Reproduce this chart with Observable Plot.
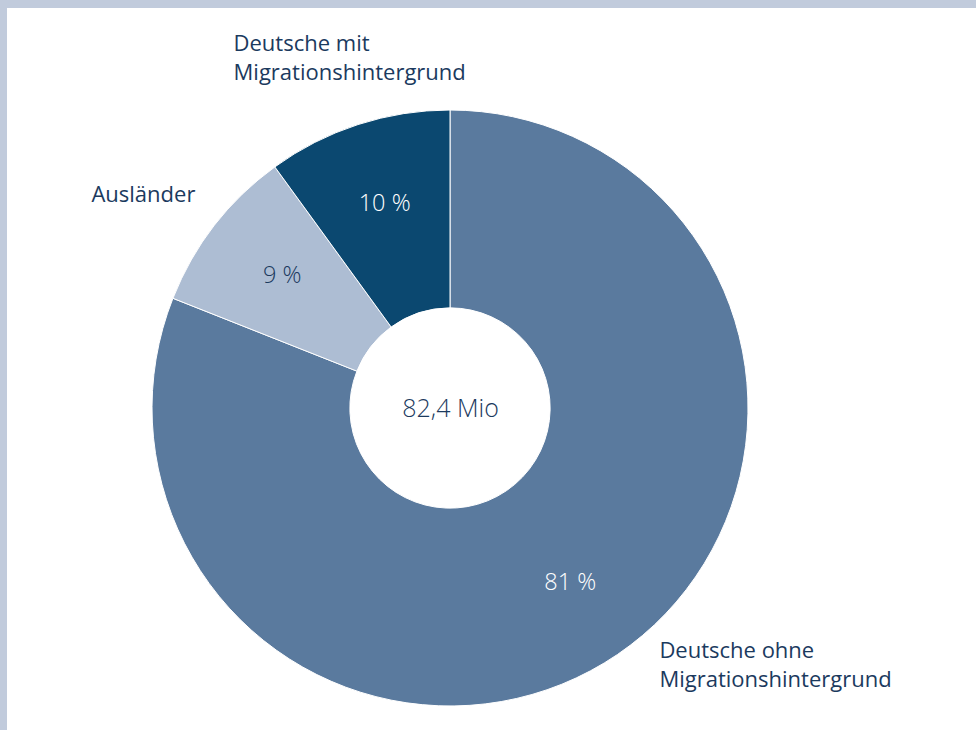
<!DOCTYPE html>
<html>
<head>
<meta charset="utf-8">
<script src="https://cdn.jsdelivr.net/npm/d3@7"></script>
<script src="https://cdn.jsdelivr.net/npm/@observablehq/plot@0.6"></script>
<style>
  html, body { margin: 0; padding: 0; background: #fff; }
  #wrap { position: relative; width: 976px; height: 730px; overflow: hidden; }
  #wrap svg { position: absolute; left: 0; top: 0; }
  .frame-top { position: absolute; left: 0; top: 0; width: 976px; height: 8px; background: #c1cbdc; }
  .frame-left { position: absolute; left: 0; top: 0; width: 7px; height: 730px; background: #c1cbdc; }
</style>
</head>
<body>
<div id="wrap"></div>
<script>
const categories = [["Deutsche ohne", "Migrationshintergrund"], ["Ausländer"], ["Deutsche mit", "Migrationshintergrund"]];
const shares = [81, 9, 10];
const shareLabels = ["81 %", "9 %", "10 %"];
const colors = ["#5a7a9e", "#adbdd3", "#0b4870"];
const shareLabelColors = ["#ffffff", "#1b3a5e", "#ffffff"];
const totalLabel = "82,4 Mio";

const data = categories.map((c, i) => ({category: c, share: shares[i], label: shareLabels[i], color: colors[i], labelColor: shareLabelColors[i]}));
const arcs = d3.pie().sort(null).value(d => d.share)(data);

const innerFrac = 0.336;
const labelFrac = 0.715;
const pctPoints = arcs.map(a => {
  const m = (a.startAngle + a.endAngle) / 2;
  return {x: labelFrac * Math.sin(m), y: labelFrac * Math.cos(m), label: a.data.label, color: a.data.labelColor};
});

// outer category label anchors (unit-circle data units), one row per text line
const lineStep = 0.097;
const anchors = [
  {x: 0.701, y: -0.814},
  {x: -1.205, y: 0.718},
  {x: -0.728, y: 1.222}
];
const outerLines = categories.flatMap((lines, i) =>
  lines.map((t, j) => ({x: anchors[i].x, y: anchors[i].y - j * lineStep, text: t})));

const font = "'Open Sans', 'Noto Sans', sans-serif";

const donut = (index, scales, values, dimensions) => {
  const cx = scales.x(0), cy = scales.y(0);
  const r = Math.abs(scales.x(1) - scales.x(0));
  const arc = d3.arc().innerRadius(r * innerFrac).outerRadius(r);
  const g = d3.create("svg:g").attr("transform", `translate(${cx},${cy})`);
  g.selectAll("path").data(arcs).join("path")
    .attr("d", arc)
    .attr("fill", d => d.data.color)
    .attr("stroke", "#ffffff")
    .attr("stroke-width", 1);
  return g.node();
};

const chart = Plot.plot({
  width: 976,
  height: 730,
  margin: 0,
  x: {domain: [-1, 1], range: [152, 748], axis: null},
  y: {domain: [-1, 1], range: [706, 110], axis: null},
  style: {fontFamily: font, background: "transparent"},
  marks: [
    donut,
    Plot.text(pctPoints, {x: "x", y: "y", text: "label", fill: "color", fontSize: 23.5, fontWeight: 300, dy: -2}),
    Plot.text([totalLabel], {x: () => 0, y: () => 0, text: d => d, fill: "#1b3a5e", fontSize: 25, fontWeight: 300}),
    Plot.text(outerLines, {x: "x", y: "y", text: "text", fill: "#1b3a5e", fontSize: 22, textAnchor: "start"})
  ]
});

const wrap = document.getElementById("wrap");
wrap.appendChild(chart);
const ft = document.createElement("div"); ft.className = "frame-top"; wrap.appendChild(ft);
const fl = document.createElement("div"); fl.className = "frame-left"; wrap.appendChild(fl);
</script>
</body>
</html>
